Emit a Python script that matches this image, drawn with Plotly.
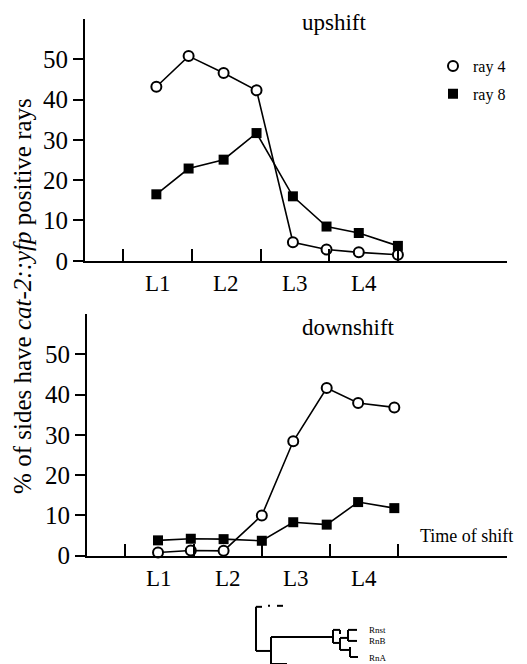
import plotly.graph_objects as go

W, H = 527, 664          # reference picture size (positions below are in its pixels)
FIG_H = 680              # figure height; the capture is rescaled to the 664 px window

# ---- data ----
stage_labels = ["L1", "L2", "L3", "L4"]
stage_label_pos = [0.5, 1.5, 2.5, 3.5]
stage_ticks = [0, 1, 2, 3, 4]

up_x = [0.48, 0.95, 1.46, 1.94, 2.47, 2.96, 3.43, 4.0]
up_ray4 = [43.2, 50.8, 46.6, 42.3, 4.6, 2.8, 2.1, 1.5]
up_ray8 = [16.5, 22.9, 25.1, 31.7, 16.0, 8.5, 6.9, 3.7]

down_x = [0.48, 0.96, 1.44, 2.0, 2.46, 2.95, 3.41, 3.94]
down_ray4 = [0.8, 1.3, 1.2, 10.0, 28.4, 41.6, 37.9, 36.8]
down_ray8 = [3.8, 4.2, 4.1, 3.7, 8.3, 7.7, 13.3, 11.8]

y_ticks = [0, 10, 20, 30, 40, 50]

FONT = "Liberation Serif, Times New Roman, Times, serif"

def px(x):
    return x / W

def py(y):
    return 1 - y / H

fig = go.Figure()

circle = dict(symbol="circle", size=10, color="white", line=dict(width=2, color="black"))
square = dict(symbol="square", size=10, color="black", line=dict(width=0))
line = dict(color="black", width=1.6)

fig.add_trace(go.Scatter(x=up_x, y=up_ray8, mode="lines+markers", marker=square, line=line,
                         showlegend=False, xaxis="x", yaxis="y", cliponaxis=False))
fig.add_trace(go.Scatter(x=up_x, y=up_ray4, mode="lines+markers", marker=circle, line=line,
                         showlegend=False, xaxis="x", yaxis="y", cliponaxis=False))
fig.add_trace(go.Scatter(x=down_x, y=down_ray8, mode="lines+markers", marker=square, line=line,
                         showlegend=False, xaxis="x2", yaxis="y2", cliponaxis=False))
fig.add_trace(go.Scatter(x=down_x, y=down_ray4, mode="lines+markers", marker=circle, line=line,
                         showlegend=False, xaxis="x2", yaxis="y2", cliponaxis=False))
# legend-only entries (marker only)
fig.add_trace(go.Scatter(x=[None], y=[None], mode="markers", marker=circle, name="ray 4",
                         legendgroup="a", xaxis="x", yaxis="y"))
fig.add_trace(go.Scatter(x=[None], y=[None], mode="markers", marker=square, name="ray 8",
                         legendgroup="b", xaxis="x", yaxis="y"))

xrange = [-0.56, 5.59]

def xaxis(anchor, dom):
    return dict(domain=dom, range=xrange, anchor=anchor, showgrid=False, zeroline=False,
                showline=True, linecolor="black", linewidth=2,
                tickmode="array", tickvals=stage_ticks, ticks="inside", ticklen=12,
                tickwidth=2, tickcolor="black", showticklabels=False, fixedrange=True)

def yaxis(anchor, dom):
    return dict(domain=dom, range=[0, 60], anchor=anchor, showgrid=False, zeroline=False,
                showline=True, linecolor="black", linewidth=2,
                tickmode="array", tickvals=y_ticks, ticks="outside", ticklen=10,
                tickwidth=2, tickcolor="black",
                tickfont=dict(family=FONT, size=25, color="black"), fixedrange=True)

fig.update_layout(
    width=W, height=FIG_H,
    margin=dict(l=0, r=0, t=0, b=0),
    paper_bgcolor="white", plot_bgcolor="white",
    xaxis=xaxis("y", [px(85), px(507)]),
    yaxis=yaxis("x", [py(260), py(19)]),
    xaxis2=xaxis("y2", [px(87), px(507)]),
    yaxis2=yaxis("x2", [py(554), py(313)]),
    showlegend=True,
    legend=dict(x=px(433), y=py(49), xanchor="left", yanchor="top",
                font=dict(family=FONT, size=16, color="black"),
                bgcolor="rgba(0,0,0,0)", itemwidth=30, tracegroupgap=4,
                traceorder="grouped"),
    font=dict(family=FONT, color="black"),
)

annotations = []
# stage labels centred between the tick marks, placed on the data x scale
for xref, yref in (("x", "y"), ("x2", "y2")):
    for pos, lab in zip(stage_label_pos, stage_labels):
        annotations.append(dict(text=lab, x=pos, y=0, xref=xref, yref=yref, yshift=-23,
                                xanchor="center", yanchor="middle", showarrow=False,
                                font=dict(family=FONT, size=23, color="black")))

annotations += [
    dict(text="upshift", x=px(334), y=py(22), xref="paper", yref="paper",
         xanchor="center", yanchor="middle",
         showarrow=False, font=dict(family=FONT, size=23, color="black")),
    dict(text="downshift", x=px(348), y=py(327), xref="paper", yref="paper",
         xanchor="center", yanchor="middle",
         showarrow=False, font=dict(family=FONT, size=23, color="black")),
    dict(text="Time of shift", x=px(418), y=py(534), xref="paper", yref="paper",
         xanchor="left", yanchor="middle", showarrow=False,
         font=dict(family=FONT, size=18, color="black")),
    dict(text="% of sides have <i>cat-2::yfp</i> positive rays", x=px(23), y=py(295),
         xref="paper", yref="paper", textangle=-90, showarrow=False,
         xanchor="center", yanchor="middle",
         font=dict(family=FONT, size=25, color="black")),
    dict(text="Rnst", x=px(367), y=py(628), xref="paper", yref="paper", xanchor="left",
         yanchor="middle", showarrow=False, font=dict(family=FONT, size=9, color="black")),
    dict(text="RnB", x=px(367), y=py(639), xref="paper", yref="paper", xanchor="left",
         yanchor="middle", showarrow=False, font=dict(family=FONT, size=9, color="black")),
    dict(text="RnA", x=px(367), y=py(656), xref="paper", yref="paper", xanchor="left",
         yanchor="middle", showarrow=False, font=dict(family=FONT, size=9, color="black")),
]
fig.update_layout(annotations=annotations)

# decorative tree fragment at the bottom (not data)
segs = [
    (256, 605, 256, 649), (256, 605, 262, 605), (268, 604, 270, 604), (277, 604, 283, 604),
    (256, 649, 271, 649), (271, 635, 271, 664), (271, 635, 333, 635), (271, 662, 287, 662),
    (333, 628, 333, 641), (333, 628, 340, 628), (340, 628, 340, 632), (333, 641, 340, 641),
    (340, 636, 340, 648), (340, 636, 348, 636), (348, 628, 348, 639), (348, 628, 357, 628),
    (348, 639, 357, 639), (340, 648, 350, 648), (350, 645, 350, 655), (350, 655, 358, 655),
]
shapes = []
for x0, y0, x1, y1 in segs:
    shapes.append(dict(type="line", xref="paper", yref="paper", x0=px(x0), y0=py(y0),
                       x1=px(x1), y1=py(y1), line=dict(color="black", width=2)))
fig.update_layout(shapes=shapes)

fig.write_html("out.html", config={"displayModeBar": False},
               post_script="document.body.style.margin='0';document.body.style.overflow='hidden';")
